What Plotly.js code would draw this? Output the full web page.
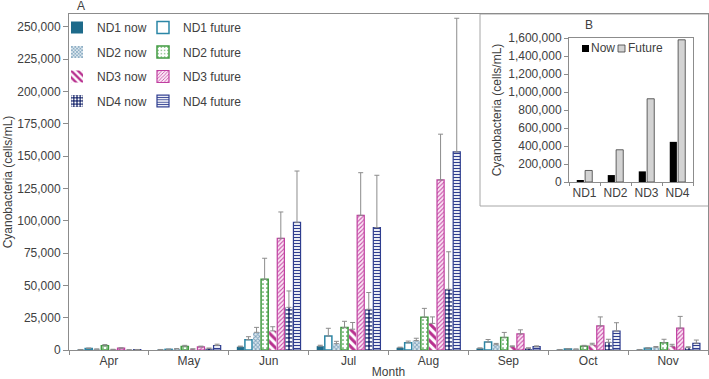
<!DOCTYPE html>
<html>
<head>
<meta charset="utf-8">
<script src="https://cdn.plot.ly/plotly-3.0.1.min.js"></script>
<style>
  html, body { margin: 0; padding: 0; background: #ffffff; }
  #chart { width: 709px; height: 379px; }
</style>
</head>
<body>
<div id="chart"></div>
<script>
// Monthly cyanobacteria abundance (cells/mL) per nutrient-dose scenario
const months = ['Apr', 'May', 'Jun', 'Jul', 'Aug', 'Sep', 'Oct', 'Nov'];

const nd1Now      = [300, 300, 2500, 3000, 1800, 1300, 300, 300];
const nd1NowErr   = [100, 100, 500, 700, 400, 300, 100, 100];
const nd1Future   = [1200, 500, 8000, 10800, 5600, 6100, 800, 1300];
const nd1FutErr   = [300, 200, 2300, 6000, 1300, 2000, 200, 400];

const nd2Now      = [600, 800, 13700, 4900, 7300, 4100, 600, 2100];
const nd2NowErr   = [200, 300, 3800, 1800, 1800, 1000, 200, 600];
const nd2Future   = [3200, 2800, 54700, 17400, 25300, 9700, 2900, 5700];
const nd2FutErr   = [1000, 800, 16300, 4800, 6900, 3900, 700, 2600];

const nd3Now      = [400, 700, 14800, 16100, 20600, 2600, 4000, 3000];
const nd3NowErr   = [150, 200, 3200, 5200, 5000, 600, 1200, 1400];
const nd3Future   = [1400, 2400, 86400, 104200, 131600, 12500, 18700, 16900];
const nd3FutErr   = [300, 600, 20400, 33000, 35400, 3100, 6900, 9100];

const nd4Now      = [100, 1200, 33000, 31500, 47000, 1300, 6000, 1800];
const nd4NowErr   = [50, 300, 12700, 13000, 29000, 400, 2300, 700];
const nd4Future   = [300, 3500, 98800, 94700, 153300, 2600, 14700, 5200];
const nd4FutErr   = [100, 1000, 39700, 40500, 103400, 600, 6400, 2500];

// Season totals for the inset panel
const scenarios     = ['ND1', 'ND2', 'ND3', 'ND4'];
const totalNow      = [22000, 77000, 118000, 446000];
const totalFuture   = [128000, 358000, 925000, 1580000];

const mainTicks = [0, 25000, 50000, 75000, 100000, 125000, 150000, 175000, 200000, 225000, 250000];

const FONT = 'Liberation Sans, Arial, Helvetica, sans-serif';
const TEXT = '#404040';
const AXIS = '#8c8c8c';
const ERR  = '#8c8c8c';
const NOW_FILL = '#000000';
const FUT_FILL = '#d3d3d3';
const FUT_LINE = '#3c3c3c';

function monthBar(name, values, errors, marker, legendId) {
  return {
    type: 'bar',
    name: name,
    x: months,
    y: values,
    xaxis: 'x',
    yaxis: 'y',
    legend: legendId,
    legendgroup: name,
    marker: marker,
    error_y: {
      type: 'data',
      symmetric: false,
      array: errors,
      arrayminus: errors.map(() => 0),
      color: ERR,
      thickness: 1,
      width: 2.5
    },
    hoverinfo: 'x+y+name'
  };
}

const traces = [
  monthBar('ND1 now', nd1Now, nd1NowErr,
    { color: '#1d6a8a', line: { width: 0 } }, 'legend'),
  monthBar('ND2 now', nd2Now, nd2NowErr,
    { color: '#dfe9f0', line: { width: 0 },
      pattern: { shape: 'x', fgcolor: '#7ea3bc', bgcolor: '#dfe9f0', size: 3, solidity: 0.5 } }, 'legend'),
  monthBar('ND3 now', nd3Now, nd3NowErr,
    { color: '#ffffff', line: { width: 0 },
      pattern: { shape: '\\', fgcolor: '#b8308f', bgcolor: '#ffffff', size: 6, solidity: 0.5 } }, 'legend'),
  monthBar('ND4 now', nd4Now, nd4NowErr,
    { color: '#1c2a6e', line: { width: 0 },
      pattern: { shape: '.', fgcolor: '#ffffff', bgcolor: '#1c2a6e', size: 4, solidity: 0.4 } }, 'legend'),
  monthBar('ND1 future', nd1Future, nd1FutErr,
    { color: '#ffffff', line: { color: '#2b86a6', width: 1.5 } }, 'legend2'),
  monthBar('ND2 future', nd2Future, nd2FutErr,
    { color: '#ffffff', line: { color: '#3f9a3f', width: 1.5 },
      pattern: { shape: '.', fgcolor: '#3f9a3f', bgcolor: '#ffffff', size: 4, solidity: 0.15 } }, 'legend2'),
  monthBar('ND3 future', nd3Future, nd3FutErr,
    { color: '#fbe6f5', line: { color: '#c03fa0', width: 1.2 },
      pattern: { shape: '/', fgcolor: '#c84fa8', bgcolor: '#fbe6f5', size: 3, solidity: 0.35 } }, 'legend2'),
  monthBar('ND4 future', nd4Future, nd4FutErr,
    { color: '#ffffff', line: { color: '#2e3d8f', width: 1.2 },
      pattern: { shape: '-', fgcolor: '#2e3d8f', bgcolor: '#ffffff', size: 3, solidity: 0.4 } }, 'legend2')
];

// Interleave now/future so bars sit ND1 now, ND1 future, ND2 now, ...
const ordered = [traces[0], traces[4], traces[1], traces[5], traces[2], traces[6], traces[3], traces[7]];

// Inset panel bars
ordered.push({
  type: 'bar', name: 'Now', x: scenarios, y: totalNow,
  xaxis: 'x2', yaxis: 'y2', showlegend: false,
  width: 0.23, offset: -0.25,
  marker: { color: NOW_FILL, line: { width: 0 } }
});
ordered.push({
  type: 'bar', name: 'Future', x: scenarios, y: totalFuture,
  xaxis: 'x2', yaxis: 'y2', showlegend: false,
  width: 0.23, offset: 0.02,
  marker: { color: FUT_FILL, line: { color: FUT_LINE, width: 0.8 } }
});

// pixel -> paper helpers for the fixed 709x379 canvas
const L = 69, R = 708, T = 14, B = 350;
const px = v => (v - L) / (R - L);
const py = v => (B - v) / (B - T);

const legendBase = {
  xanchor: 'left', yanchor: 'top',
  bgcolor: 'rgba(0,0,0,0)', borderwidth: 0,
  font: { family: FONT, size: 12, color: TEXT },
  tracegroupgap: 5.5, traceorder: 'grouped'
};

const layout = {
  width: 709,
  height: 379,
  margin: { l: L, r: 709 - R, t: T, b: 379 - B, pad: 0 },
  paper_bgcolor: '#ffffff',
  plot_bgcolor: '#ffffff',
  font: { family: FONT, size: 12, color: TEXT },
  barmode: 'group',
  bargap: 0.19,
  bargroupgap: 0.12,
  showlegend: true,
  xaxis: {
    type: 'category',
    range: [-0.5, 7.5],
    showline: true, linecolor: AXIS, linewidth: 1, mirror: true,
    ticks: 'outside', tickson: 'boundaries', ticklen: 4, tickcolor: AXIS,
    showgrid: false, zeroline: false, automargin: false,
    tickfont: { size: 12, color: TEXT },
    title: { text: 'Month', font: { size: 12, color: TEXT }, standoff: 2 }
  },
  yaxis: {
    range: [0, 260000],
    tickvals: mainTicks,
    tickformat: ',d',
    showline: true, linecolor: AXIS, linewidth: 1, mirror: true,
    ticks: 'outside', ticklen: 5, tickcolor: AXIS,
    showgrid: false, zeroline: false, automargin: false,
    tickfont: { size: 12, color: TEXT },
    title: { text: 'Cyanobacteria (cells/mL)', font: { size: 12, color: TEXT }, standoff: 2 }
  },
  xaxis2: {
    type: 'category',
    domain: [px(569), px(693)],
    anchor: 'y2',
    range: [-0.5, 3.5],
    tickangle: 0,
    showline: true, linecolor: AXIS, linewidth: 1, mirror: true,
    ticks: 'outside', tickson: 'boundaries', ticklen: 3, tickcolor: AXIS,
    showgrid: false, zeroline: false, automargin: false,
    tickfont: { size: 12, color: TEXT }
  },
  yaxis2: {
    domain: [py(182), py(38)],
    anchor: 'x2',
    range: [0, 1600000],
    dtick: 200000,
    tickformat: ',d',
    showline: true, linecolor: AXIS, linewidth: 1, mirror: true,
    ticks: 'outside', ticklen: 4, tickcolor: AXIS,
    showgrid: false, zeroline: false, automargin: false,
    tickfont: { size: 12, color: TEXT },
    title: { text: 'Cyanobacteria (cells/mL)', font: { size: 12, color: TEXT }, standoff: 4 }
  },
  legend: Object.assign({ x: px(57), y: py(13) }, legendBase),
  legend2: Object.assign({ x: px(143), y: py(13) }, legendBase),
  shapes: [
    // inset frame
    { type: 'rect', xref: 'paper', yref: 'paper', layer: 'below',
      x0: px(480), x1: px(712), y0: py(206), y1: py(14),
      fillcolor: '#ffffff', line: { color: '#a6a6a6', width: 1 } },
    // inset key swatches
    { type: 'rect', xref: 'paper', yref: 'paper', layer: 'above',
      x0: px(582), x1: px(589), y0: py(52), y1: py(45),
      fillcolor: NOW_FILL, line: { width: 0 } },
    { type: 'rect', xref: 'paper', yref: 'paper', layer: 'above',
      x0: px(618), x1: px(625), y0: py(52), y1: py(45),
      fillcolor: FUT_FILL, line: { color: FUT_LINE, width: 0.8 } }
  ],
  annotations: [
    { text: 'A', xref: 'paper', yref: 'paper', x: px(75), y: py(6),
      xanchor: 'left', yanchor: 'middle', showarrow: false,
      font: { family: FONT, size: 12, color: TEXT } },
    { text: 'B', xref: 'paper', yref: 'paper', x: px(583), y: py(25),
      xanchor: 'left', yanchor: 'middle', showarrow: false,
      font: { family: FONT, size: 12, color: TEXT } },
    { text: 'Now', xref: 'paper', yref: 'paper', x: px(589), y: py(48.5),
      xanchor: 'left', yanchor: 'middle', showarrow: false,
      font: { family: FONT, size: 12, color: TEXT } },
    { text: 'Future', xref: 'paper', yref: 'paper', x: px(626), y: py(48.5),
      xanchor: 'left', yanchor: 'middle', showarrow: false,
      font: { family: FONT, size: 12, color: TEXT } }
  ]
};

Plotly.newPlot('chart', ordered, layout, { displayModeBar: false, staticPlot: true });
</script>
</body>
</html>
